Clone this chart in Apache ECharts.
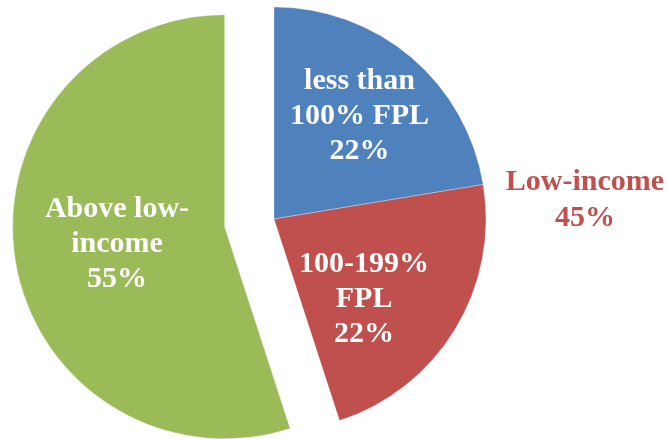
<!DOCTYPE html>
<html>
<head>
<meta charset="utf-8">
<script src="https://cdn.jsdelivr.net/npm/echarts@6/dist/echarts.min.js"></script>
<style>
html,body{margin:0;padding:0;background:#fff;}
#chart{width:668px;height:439px;}
</style>
</head>
<body>
<div id="chart"></div>
<script>
var categories = ['less than\n100% FPL', '100-199%\nFPL', 'Above low-\nincome'];
var values = [22.4, 22.6, 55.0];
var pctLabels = ['22%', '22%', '55%'];
var groupLabel = 'Low-income';
var groupPct = '45%';

var colors = ['#4F81BD', '#C0504D', '#9BBB59'];
var labelOffsets = [[15, -20], [-3, 24], [-5, 1]];

var chart = echarts.init(document.getElementById('chart'), null, {renderer: 'canvas'});
var data = categories.map(function (c, i) {
  return {
    name: c,
    value: values[i],
    selected: i === 2,
    itemStyle: {color: colors[i]},
    label: {offset: labelOffsets[i]}
  };
});
chart.setOption({
  animation: false,
  graphic: [{
    type: 'text',
    x: 585,
    y: 200,
    style: {
      text: groupLabel + '\n' + groupPct,
      fill: '#C0504D',
      fontFamily: 'Liberation Serif',
      fontWeight: 'bold',
      fontSize: 30,
      lineHeight: 36,
      align: 'center',
      verticalAlign: 'middle'
    }
  }],
  series: [{
    type: 'pie',
    center: [274, 219],
    radius: [0, 212],
    startAngle: 90,
    clockwise: true,
    selectedMode: 'single',
    selectedOffset: 50,
    avoidLabelOverlap: false,
    emphasis: {disabled: true},
    itemStyle: {borderColor: 'rgba(255,255,255,0.6)', borderWidth: 0.5},
    label: {
      show: true,
      position: 'inside',
      color: '#fff',
      fontFamily: 'Liberation Serif',
      fontWeight: 'bold',
      fontSize: 30,
      lineHeight: 35,
      align: 'center',
      formatter: function (p) { return p.name + '\n' + pctLabels[p.dataIndex]; }
    },
    labelLine: {show: false},
    data: data
  }]
});
</script>
</body>
</html>
